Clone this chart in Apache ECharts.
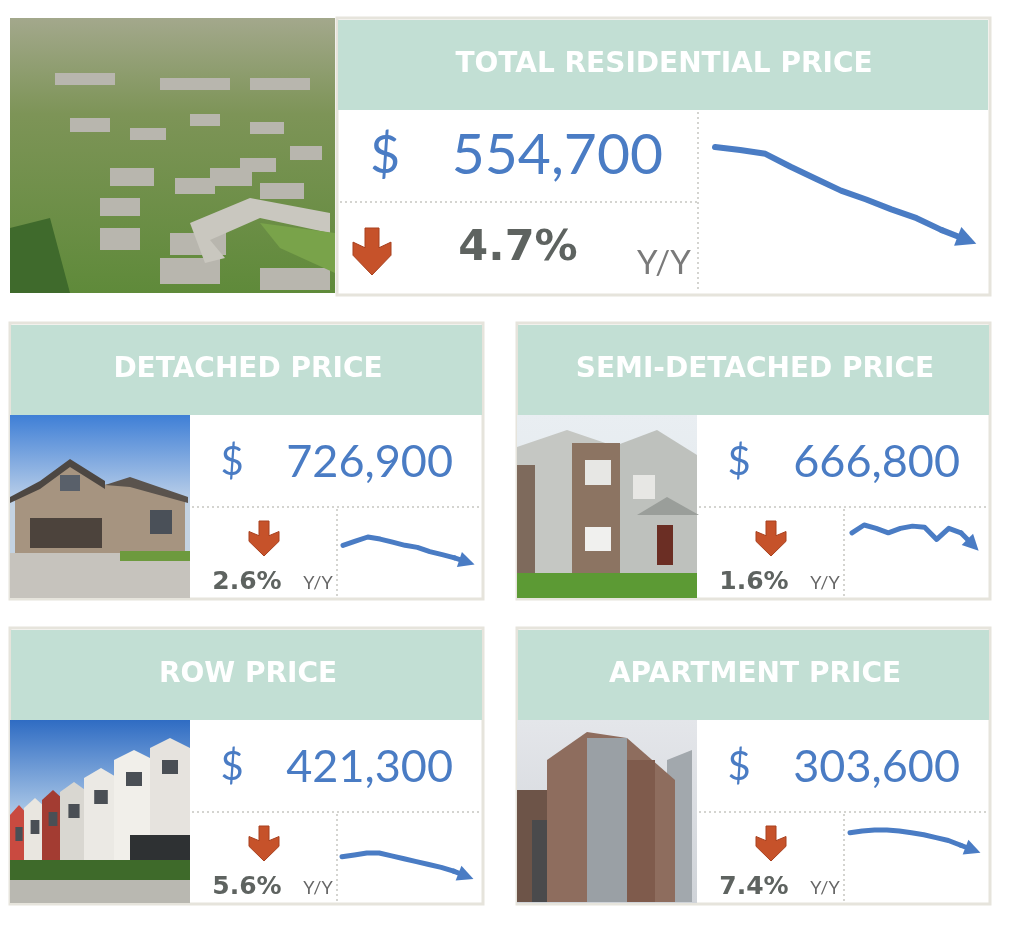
<!doctype html>
<html>
	<head>
		<meta charset="utf-8">
		<title>Residential Prices</title>
		<style>
			html, body { margin: 0; padding: 0; background: #fff; }
		</style>
	</head>
	<body>
		<div id="container" style="height: 946px; width: 1024px;"></div>

		<script src="https://cdn.jsdelivr.net/npm/echarts@6/dist/echarts.min.js"></script>

		<script>
			// benchmark price by type, in thousands of dollars
			const periods = ['1', '2', '3', '4', '5', '6', '7', '8', '9', '10', '11'];
			const totalTrend = [582.0, 581.1, 580.0, 576.2, 572.7, 569.2, 566.6, 563.7, 561.1, 557.6, 554.7];
			const detachedTrend = [746.3, 751.2, 756.0, 753.6, 750.0, 746.3, 743.9, 739.0, 735.4, 731.7, 726.9];
			const semiTrend = [677.6, 684.5, 681.5, 677.6, 681.5, 683.5, 682.5, 671.7, 681.5, 677.6, 666.8];
			const rowTrend = [446.3, 448.8, 451.3, 451.3, 447.6, 443.8, 440.1, 436.3, 432.6, 427.6, 421.3];
			const apartmentTrend = [327.9, 330.6, 331.9, 331.9, 330.6, 327.9, 325.2, 321.1, 317.1, 310.3, 303.6];

			const titles = ['TOTAL RESIDENTIAL PRICE', 'DETACHED PRICE', 'SEMI-DETACHED PRICE', 'ROW PRICE', 'APARTMENT PRICE'];
			const prices = ['554,700', '726,900', '666,800', '421,300', '303,600'];
			const changes = ['4.7%', '2.6%', '1.6%', '5.6%', '7.4%'];
			const changeUnit = 'Y/Y';

			const BLUE = '#4a7cc4';
			const MINT = '#c2dfd4';
			const RUST = '#c6522a';
			const GREY = '#5e6360';
			const EDGE = '#e6e4dc';
			const FONT = 'Lato, "Open Sans", sans-serif';
			const HEAVY = '"DejaVu Sans", sans-serif';

			function txt(text, x, y, size, weight, color, align, family) {
				return {
					type: 'text', z: 10,
					style: {
						text: text, x: x, y: y,
						font: weight + ' ' + size + 'px ' + (family || FONT),
						fill: color, textAlign: align || 'center', textVerticalAlign: 'middle'
					}
				};
			}

			function dotted(x1, y1, x2, y2) {
				return {
					type: 'line', z: 5,
					shape: { x1: x1, y1: y1, x2: x2, y2: y2 },
					style: { stroke: '#d4d4d0', lineWidth: 2, lineDash: [2, 3] }
				};
			}

			function downArrow(cx, top, bottom, half, shaft) {
				let h = bottom - top;
				return {
					type: 'polygon', z: 10,
					shape: {
						points: [
							[cx - shaft, top], [cx + shaft, top], [cx + shaft, top + h * 0.42],
							[cx + half, top + h * 0.3], [cx + half, top + h * 0.58], [cx, bottom],
							[cx - half, top + h * 0.58], [cx - half, top + h * 0.3], [cx - shaft, top + h * 0.42]
						]
					},
					style: { fill: RUST, stroke: '#a8401e', lineWidth: 1 }
				};
			}

			function rect(x, y, w, h, fill, z) {
				return { type: 'rect', z: z || 1, shape: { x: x, y: y, width: w, height: h }, style: { fill: fill } };
			}

			function poly(points, fill, z) {
				return { type: 'polygon', z: z || 2, shape: { points: points }, style: { fill: fill } };
			}

			function vgrad(stops) {
				return {
					type: 'linear', x: 0, y: 0, x2: 0, y2: 1,
					colorStops: stops.map(s => ({ offset: s[0], color: s[1] }))
				};
			}

			// ---- photo stand-ins (rough colour blocks) ----
			function aerialPhoto(x, y, w, h) {
				let g = [rect(x, y, w, h, vgrad([[0, '#a3a88c'], [0.35, '#7d9457'], [1, '#5f8a3a']]))];
				let roofs = [
					[60, 100, 40, 14], [120, 110, 36, 12], [180, 96, 30, 12], [240, 104, 34, 12],
					[100, 150, 44, 18], [165, 160, 40, 16], [230, 140, 36, 14], [280, 128, 32, 14],
					[90, 180, 40, 18], [200, 150, 42, 18], [250, 165, 44, 16],
					[90, 210, 40, 22], [160, 215, 56, 22], [150, 240, 60, 26], [250, 250, 70, 22], [45, 55, 60, 12], [150, 60, 70, 12], [240, 60, 60, 12]
				];
				roofs.forEach(r => g.push(rect(x + r[0], y + r[1], r[2], r[3], '#b8b6ae', 2)));
				g.push(poly([[x + 180, y + 205], [x + 240, y + 180], [x + 320, y + 195], [x + 320, y + 215], [x + 250, y + 200], [x + 200, y + 222], [x + 215, y + 240], [x + 195, y + 245]], '#c9c7bf', 3));
				g.push(poly([[x + 250, y + 205], [x + 325, y + 215], [x + 325, y + 255], [x + 270, y + 230]], '#79a34a', 3));
				g.push(poly([[x, y + 210], [x + 40, y + 200], [x + 60, y + 275], [x, y + 275]], '#3f6a2c', 3));
				return g;
			}

			function detachedPhoto(x, y, w, h) {
				return [
					rect(x, y, w, h, vgrad([[0, '#3f7fd6'], [0.45, '#b7cde8'], [0.5, '#c4d3e2'], [1, '#c4d3e2']])),
					poly([[x + 5, y + 82], [x + 30, y + 70], [x + 60, y + 48], [x + 90, y + 70], [x + 120, y + 68], [x + 175, y + 85], [x + 175, y + 140], [x + 5, y + 140]], '#a69480'),
					poly([[x, y + 82], [x + 30, y + 66], [x + 60, y + 44], [x + 95, y + 66], [x + 95, y + 74], [x + 60, y + 52], [x + 30, y + 74], [x, y + 88]], '#4d4742', 3),
					poly([[x + 95, y + 70], [x + 120, y + 62], [x + 178, y + 82], [x + 178, y + 88], [x + 120, y + 72]], '#5a534d', 3),
					rect(x + 20, y + 103, 72, 30, '#4c433c', 3),
					rect(x + 50, y + 60, 20, 16, '#59606a', 3),
					rect(x + 140, y + 95, 22, 24, '#4a5058', 3),
					rect(x, y + 138, w, h - 138, '#c6c3bd', 2),
					rect(x + 110, y + 136, 70, 10, '#6d9a3e', 3)
				];
			}

			function semiPhoto(x, y, w, h) {
				return [
					rect(x, y, w, h, vgrad([[0, '#e9eef2'], [1, '#dfe6ea']])),
					poly([[x, y + 32], [x + 50, y + 15], [x + 100, y + 32], [x + 100, y + 160], [x, y + 160]], '#c5c7c3'),
					poly([[x + 95, y + 32], [x + 140, y + 15], [x + 180, y + 40], [x + 180, y + 160], [x + 95, y + 160]], '#bec1bd'),
					rect(x + 55, y + 28, 48, 132, '#8c7462', 3),
					rect(x, y + 50, 18, 110, '#7e6a5c', 3),
					rect(x + 68, y + 45, 26, 25, '#e7e7e4', 4),
					rect(x + 68, y + 112, 26, 24, '#f0f0ee', 4),
					rect(x + 116, y + 60, 22, 24, '#e7e7e4', 4),
					rect(x + 140, y + 110, 16, 40, '#6b2e24', 4),
					poly([[x + 120, y + 100], [x + 150, y + 82], [x + 182, y + 100]], '#9a9e9a', 4),
					rect(x, y + 158, w, h - 158, '#5c9a34', 3)
				];
			}

			function rowPhoto(x, y, w, h) {
				let g = [rect(x, y, w, h, vgrad([[0, '#2f6cc3'], [0.5, '#a9c6e6'], [1, '#c9d6e2']]))];
				let units = [
					[0, 85, 18, '#c94a40'], [14, 78, 22, '#e9e6e0'], [32, 70, 22, '#a33c32'],
					[50, 62, 28, '#d9d7d1'], [74, 48, 34, '#ebe9e4'], [104, 30, 40, '#f1efea'], [140, 18, 40, '#e6e3de']
				];
				units.forEach(u => {
					g.push(poly([[x + u[0], y + u[1] + 10], [x + u[0] + u[2] / 2, y + u[1]], [x + u[0] + u[2], y + u[1] + 10], [x + u[0] + u[2], y + 145], [x + u[0], y + 145]], u[3], 2));
					g.push(rect(x + u[0] + u[2] * 0.3, y + u[1] + 22, u[2] * 0.4, 14, '#4a4f55', 3));
				});
				g.push(rect(x + 120, y + 115, 60, 40, '#2e3133', 3));
				g.push(rect(x, y + 140, w, 22, '#3e6a2a', 3));
				g.push(rect(x, y + 160, w, h - 160, '#b9b8b1', 3));
				return g;
			}

			function apartmentPhoto(x, y, w, h) {
				return [
					rect(x, y, w, h, vgrad([[0, '#e4e6ea'], [1, '#cfd3d8']])),
					poly([[x + 150, y + 40], [x + 175, y + 30], [x + 175, y + 182], [x + 150, y + 182]], '#a2a8ad'),
					poly([[x + 30, y + 40], [x + 70, y + 12], [x + 110, y + 18], [x + 158, y + 60], [x + 158, y + 182], [x + 30, y + 182]], '#8e6d5e'),
					rect(x + 70, y + 18, 40, 164, '#9aa0a5', 3),
					rect(x + 110, y + 40, 28, 142, '#7f5b4c', 3),
					rect(x, y + 70, 30, 112, '#6d5448', 3),
					rect(x + 15, y + 100, 15, 82, '#4a4a4c', 4)
				];
			}

			// ---- panels ----
			function bigPanel() {
				let g = [];
				g.push({ type: 'rect', z: 0, shape: { x: 337, y: 18, width: 653, height: 277 }, style: { fill: '#fff', stroke: EDGE, lineWidth: 3 } });
				g.push(rect(338, 20, 650, 90, MINT, 2));
				g = g.concat(aerialPhoto(10, 18, 325, 275));
				g.push(txt(titles[0], 664, 65, 28, 'bold', '#ffffff', 'center', HEAVY));
				g.push(dotted(698, 112, 698, 292));
				g.push(dotted(340, 202, 698, 202));
				g.push(txt('$', 385, 156, 52, 'normal', BLUE));
				g.push(txt(prices[0], 663, 156, 57, 'normal', BLUE, 'right'));
				g.push(downArrow(372, 228, 275, 19, 7));
				g.push(txt(changes[0], 518, 249, 43, 'bold', GREY, 'center', HEAVY));
				g.push(txt(changeUnit, 664, 263, 33, 'normal', '#7a7a7a'));
				return g;
			}

			function smallPanel(i, x, y, photoFn) {
				let g = [];
				g.push({ type: 'rect', z: 0, shape: { x: x, y: y, width: 473, height: 276 }, style: { fill: '#fff', stroke: EDGE, lineWidth: 3 } });
				g.push(rect(x + 1, y + 2, 471, 90, MINT, 2));
				g = g.concat(photoFn(x, y + 92, 180, 183));
				g.push(txt(titles[i], x + 238, y + 47, 28, 'bold', '#ffffff', 'center', HEAVY));
				g.push(dotted(x + 182, y + 184, x + 471, y + 184));
				g.push(dotted(x + 327, y + 186, x + 327, y + 274));
				g.push(txt('$', x + 222, y + 139, 40, 'normal', BLUE));
				g.push(txt(prices[i], x + 443, y + 139, 45, 'normal', BLUE, 'right'));
				g.push(downArrow(x + 254, y + 198, y + 233, 15, 5));
				g.push(txt(changes[i], x + 237, y + 259, 25, 'bold', GREY, 'center', HEAVY));
				g.push(txt(changeUnit, x + 308, y + 260, 18, 'normal', '#666666'));
				return g;
			}

			let graphics = bigPanel()
				.concat(smallPanel(1, 10, 323, detachedPhoto))
				.concat(smallPanel(2, 517, 323, semiPhoto))
				.concat(smallPanel(3, 10, 628, rowPhoto))
				.concat(smallPanel(4, 517, 628, apartmentPhoto));

			// ---- sparklines ----
			const trends = [totalTrend, detachedTrend, semiTrend, rowTrend, apartmentTrend];
			// plot boxes run from the first point to the arrow tip
			const grids = [
				{ left: 715, top: 147, width: 252, height: 93 },
				{ left: 343, top: 537, width: 124, height: 25 },
				{ left: 852, top: 525, width: 121, height: 20 },
				{ left: 342, top: 853, width: 124, height: 23 },
				{ left: 850, top: 830, width: 123, height: 20 }
			];

			let series = [];
			trends.forEach((t, i) => {
				let n = t.length;
				let style = { color: BLUE, width: i === 0 ? 6 : 5, opacity: 1, cap: 'round', join: 'round' };
				// the trend line itself
				series.push({
					type: 'lines', coordinateSystem: 'cartesian2d', xAxisIndex: i, yAxisIndex: i,
					polyline: true, clip: false, z: 20, lineStyle: style,
					data: [{ name: titles[i], coords: t.slice(0, n - 1).map((v, j) => [j, v]) }]
				});
				// last step carries the arrow head (polylines don't take end symbols)
				series.push({
					type: 'lines', coordinateSystem: 'cartesian2d', xAxisIndex: i, yAxisIndex: i,
					polyline: false, clip: false, z: 21, lineStyle: style,
					symbol: ['none', 'triangle'], symbolSize: i === 0 ? 20 : 16,
					data: [{ coords: [[n - 2, t[n - 2]], [n - 1, t[n - 1]]] }]
				});
			});

			let dom = document.getElementById('container');
			let myChart = echarts.init(dom, null, { renderer: 'canvas' });

			let opts = {
				animation: false,
				backgroundColor: '#ffffff',
				graphic: { elements: graphics },
				grid: grids.map(g => Object.assign({ containLabel: false, show: false }, g)),
				xAxis: trends.map((t, i) => ({
					type: 'value', gridIndex: i, min: 0, max: periods.length - 1, show: false, splitLine: { show: false }
				})),
				yAxis: trends.map((t, i) => ({
					type: 'value', gridIndex: i, min: Math.min(...t), max: Math.max(...t), show: false, splitLine: { show: false }
				})),
				series: series
			};

			myChart.setOption(opts, true);
		</script>
	</body>
</html>
